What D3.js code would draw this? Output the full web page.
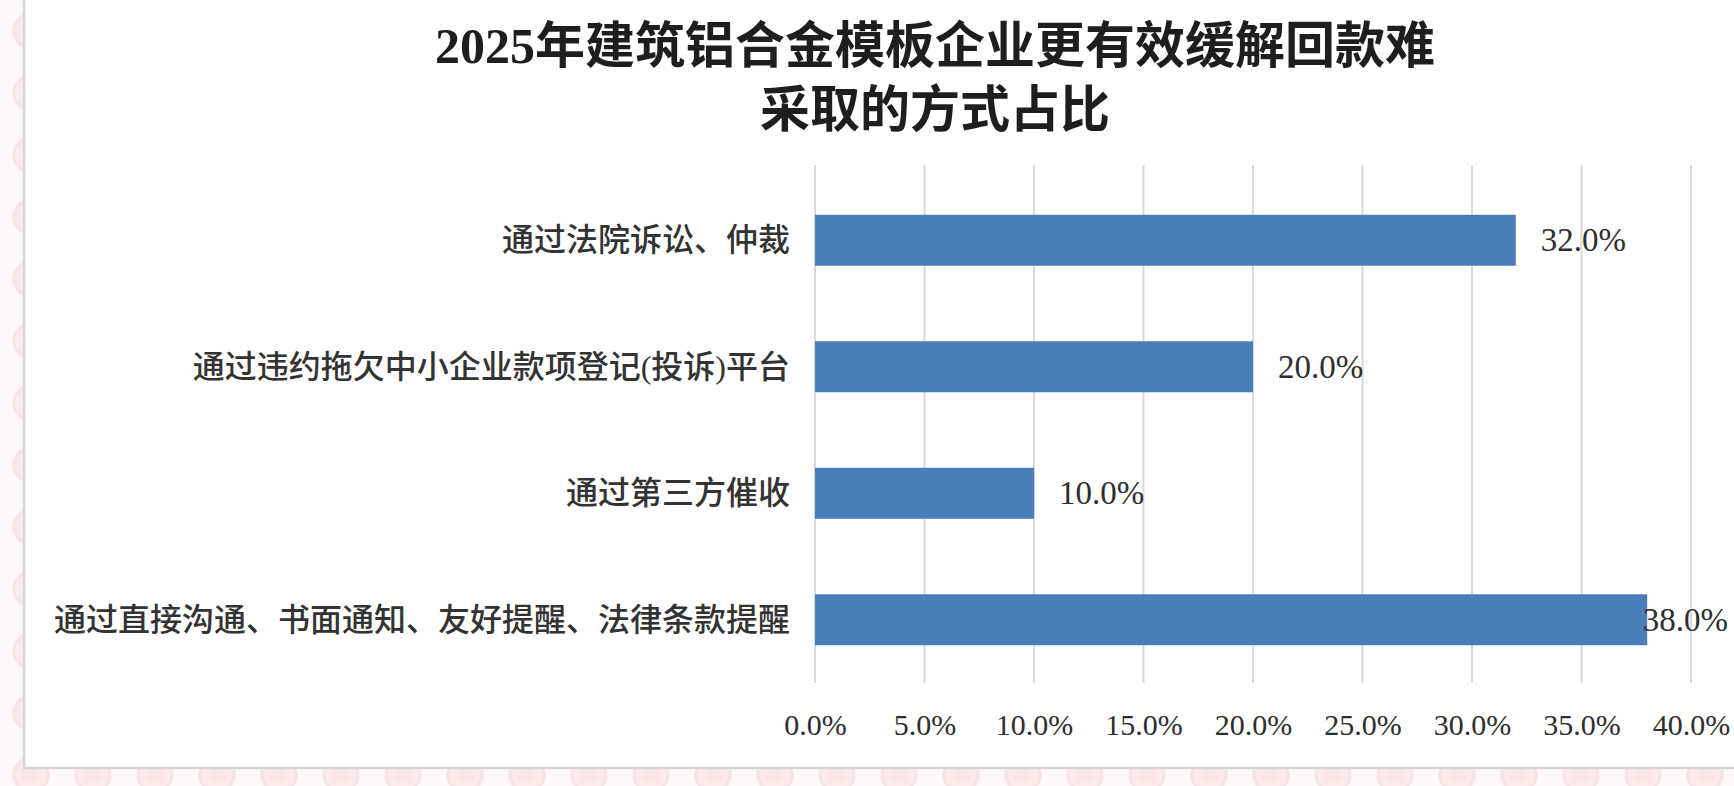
<!DOCTYPE html>
<html><head><meta charset="utf-8">
<script src="https://cdn.jsdelivr.net/npm/d3@7"></script>
<style>
html,body{margin:0;padding:0;background:#fdf7f7;}
svg{display:block;}
</style></head>
<body>
<svg id="chart" width="1734" height="786"></svg>
<script>
const titleLines = ["2025年建筑铝合金模板企业更有效缓解回款难", "采取的方式占比"];
const categories = [
  "通过法院诉讼、仲裁",
  "通过违约拖欠中小企业款项登记(投诉)平台",
  "通过第三方催收",
  "通过直接沟通、书面通知、友好提醒、法律条款提醒"
];
const values = [0.32, 0.20, 0.10, 0.38];
const tickValues = [0, 0.05, 0.10, 0.15, 0.20, 0.25, 0.30, 0.35, 0.40];

const W = 1734, H = 786;
const svg = d3.select("#chart");
const defs = svg.append("defs");
const pat = defs.append("pattern").attr("id","bgpat").attr("patternUnits","userSpaceOnUse")
  .attr("width",62).attr("height",62);
pat.append("rect").attr("width",62).attr("height",62).attr("fill","#fef8f8");
pat.append("circle").attr("cx",31).attr("cy",31).attr("r",17).attr("fill","#fbeaea").attr("stroke","#f9e2e2").attr("stroke-width",3);
pat.append("circle").attr("cx",31).attr("cy",31).attr("r",8).attr("fill","#fae4e4");

svg.append("rect").attr("width",W).attr("height",H).attr("fill","url(#bgpat)");
// white panel
svg.append("rect").attr("x",24).attr("y",-10).attr("width",W).attr("height",778)
  .attr("fill","#ffffff").attr("stroke","#d6d6d6").attr("stroke-width",2.5);

const x = d3.scaleLinear().domain([0, 0.40]).range([815, 1691]);
const y = d3.scaleBand().domain(categories).range([177, 683]).paddingInner(0.597).paddingOuter(0.2985);

const fmt = d3.format(".1%");
const serif = "'Liberation Serif','Times New Roman','Noto Sans CJK SC',serif";

// gridlines
svg.append("g").selectAll("line").data(tickValues).join("line")
  .attr("x1", d => x(d)).attr("x2", d => x(d))
  .attr("y1", 165).attr("y2", 683)
  .attr("stroke", "#d9d9d9").attr("stroke-width", 2);

// x axis tick labels
const xAxis = d3.axisBottom(x).tickValues(tickValues).tickFormat(fmt).tickSize(0).tickPadding(0);
const gx = svg.append("g").attr("transform","translate(0,724)").call(xAxis);
gx.select(".domain").remove();
gx.selectAll("text").attr("font-family", serif).attr("font-size", 30).attr("fill","#2e2e2e")
  .attr("dy", null).attr("y", 0).attr("dominant-baseline","central");

// bars
svg.append("g").selectAll("rect").data(values).join("rect")
  .attr("x", x(0))
  .attr("y", (d,i) => y(categories[i]))
  .attr("width", d => x(d) - x(0))
  .attr("height", y.bandwidth())
  .attr("fill", "#4a7ebb");

// category labels
const yAxis = d3.axisLeft(y).tickSize(0).tickPadding(0);
const gy = svg.append("g").attr("transform","translate(790,0)").call(yAxis);
gy.select(".domain").remove();
gy.selectAll("text").attr("font-family", serif).attr("font-size", 32).attr("font-weight", 500).attr("fill","#333333")
  .attr("dy", null).attr("x", 0).attr("dominant-baseline","central").attr("text-anchor","end");

// value labels
const labels = svg.append("g").selectAll("text").data(values).join("text")
  .attr("y", (d,i) => y(categories[i]) + y.bandwidth()/2)
  .attr("dominant-baseline","central")
  .attr("font-family", serif).attr("font-size", 33).attr("fill","#2e2e2e")
  .text(d => fmt(d));
labels.attr("x", function(d){
  const w = this.getComputedTextLength();
  return Math.min(x(d) + 25, 1728 - w);
});

// title
svg.append("g").selectAll("text").data(titleLines).join("text")
  .attr("x", 935).attr("y", (d,i) => 46 + i*64)
  .attr("text-anchor","middle").attr("dominant-baseline","central")
  .attr("font-family", serif).attr("font-size", 50).attr("font-weight", 700)
  .attr("fill","#1e1e1e")
  .text(d => d);
</script>
</body></html>
